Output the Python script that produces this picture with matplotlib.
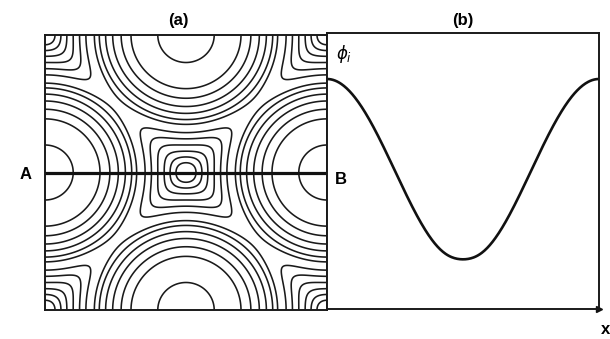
import numpy as np
import matplotlib
matplotlib.use('Agg')
import matplotlib.pyplot as plt

plt.rcParams['font.family'] = ['Liberation Sans', 'DejaVu Sans']

# potential maxima: edge midpoints of the unit cell and their periodic images
cells = range(-3, 4)
sites = [(i, j) for i in cells for j in cells if (i + j) % 2 != 0]

# where the contours cross AB (half-cell units):
# rings measured from A, pocket contours measured from the cell centre
ring_radii = [0.20, 0.39, 0.46, 0.52, 0.57, 0.615, 0.65]
pocket_halfwidths = [0.29, 0.245, 0.20, 0.155, 0.113, 0.071]
smooth = 0.065


def soft_distance(x, y):
    x = np.asarray(x, dtype=float)
    y = np.asarray(y, dtype=float)
    d = np.stack([np.hypot(x - sx, y - sy) for sx, sy in sites])
    dmin = d.min(axis=0)
    return dmin - smooth * np.log(np.exp(-(d - dmin) / smooth).sum(axis=0))


def potential(x, y):
    return np.cos(np.pi * soft_distance(x, y))


ring_levels = [float(soft_distance(-1 + r, 0.0)) for r in ring_radii]
pocket_levels = [float(soft_distance(-h, 0.0)) for h in pocket_halfwidths]
levels = sorted(ring_levels + pocket_levels)

fig = plt.figure(figsize=(6.1, 3.39), dpi=100)
W, H = 610., 339.

# ---- (a) contour map
ax1 = fig.add_axes([45 / W, 1 - 310 / H, (327 - 45) / W, (310 - 35) / H])
g = np.linspace(-1, 1, 700)
X, Y = np.meshgrid(g, g)
D = soft_distance(X, Y)
ax1.contour(X, Y, D, levels=levels, colors='#1a1a1a', linewidths=1.15)
ax1.plot([-1, 1], [0, 0], color='#111111', lw=2.3)
ax1.set_xlim(-1, 1)
ax1.set_ylim(-1, 1)
ax1.set_xticks([])
ax1.set_yticks([])
for s in ax1.spines.values():
    s.set_linewidth(1.4)
    s.set_color('#1a1a1a')

# ---- (b) profile along AB
ax2 = fig.add_axes([327 / W, 1 - 309 / H, (599 - 327) / W, (309 - 33) / H])
xs = np.linspace(-1, 1, 400)
ax2.plot(xs, potential(xs, np.zeros_like(xs)), color='#111111', lw=1.9)
ax2.set_xlim(-1, 1)
ax2.set_ylim(-1.5, 1.5)
ax2.set_xticks([])
ax2.set_yticks([])
for s in ax2.spines.values():
    s.set_linewidth(1.4)
    s.set_color('#1a1a1a')
ax2.plot([1], [-1.5], marker='>', ms=4, color='#111111', clip_on=False)

fig.text(178 / W, 1 - 21 / H, '(a)', ha='center', va='center', fontsize=12, fontweight='bold')
fig.text(463 / W, 1 - 20 / H, '(b)', ha='center', va='center', fontsize=12, fontweight='bold')
fig.text(26 / W, 1 - 175 / H, 'A', ha='center', va='center', fontsize=12, fontweight='bold')
fig.text(341 / W, 1 - 179 / H, 'B', ha='center', va='center', fontsize=12, fontweight='bold')
fig.text(344 / W, 1 - 54 / H, r'$\phi_i$', ha='center', va='center', fontsize=12)
fig.text(606 / W, 1 - 329 / H, 'x', ha='center', va='center', fontsize=12, fontweight='bold')

fig.savefig('out.png', dpi=100)
